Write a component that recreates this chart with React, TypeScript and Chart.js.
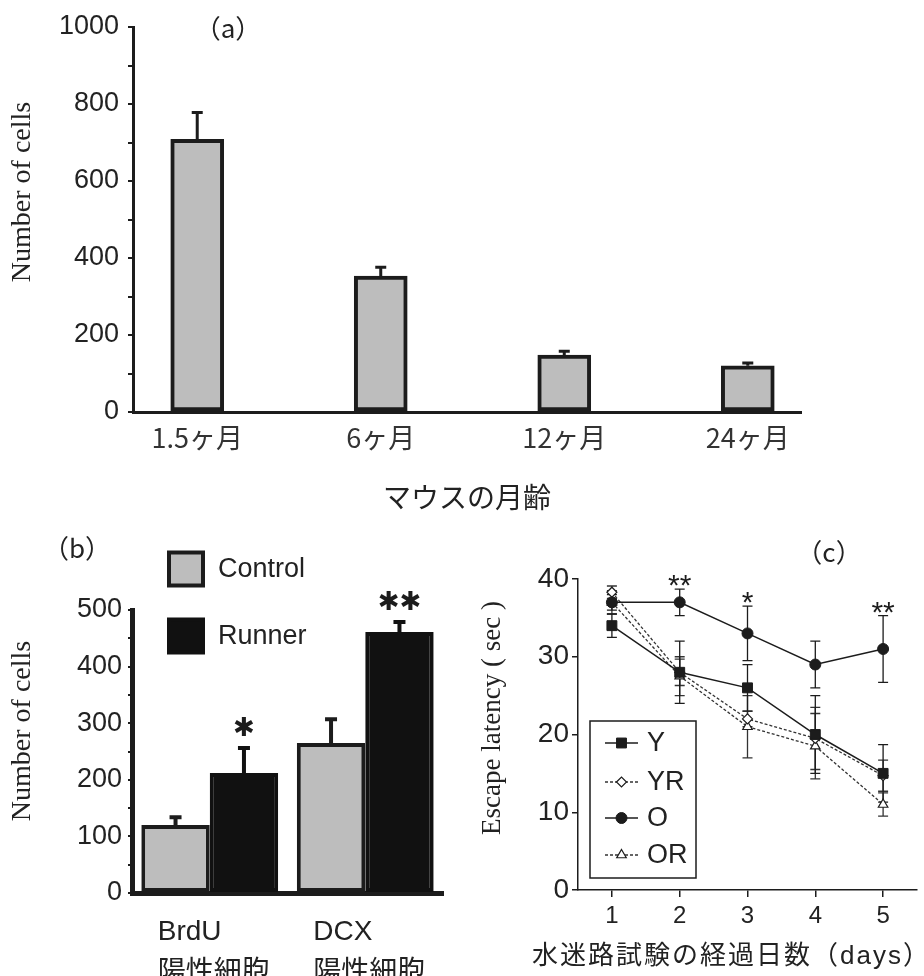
import React, { useEffect, useRef } from "react";
import { Chart, registerables } from "chart.js";
import { drawPoint } from "chart.js/helpers";

Chart.register(...registerables);

// ---------- Panel (a) ----------
const ageLabels = ["1.5ヶ月", "6ヶ月", "12ヶ月", "24ヶ月"];
const ageCells = [708, 353, 148, 120];
const ageErr = [70, 23, 10, 7];

// ---------- Panel (b) ----------
const markerLabels = [["BrdU", "陽性細胞"], ["DCX", "陽性細胞"]];
const controlCells = [120, 265];
const controlErr = [14, 42];
const runnerCells = [212, 461];
const runnerErr = [44, 18];
const runnerStars = ["✱", "✱✱"];

// ---------- Panel (c) ----------
const days = [1, 2, 3, 4, 5];
const latY = [34, 28, 26, 20, 15];
const errY = [1.5, 4, 3, 5, 3.7];
const latYR = [38.3, 28, 22, 19.5, 14.7];
const errYR = [0.8, 1.7, 1, 4, 2];
const latO = [37, 37, 33, 29, 31];
const errO = [1, 1.7, 3.5, 3, 4.3];
const latOR = [37, 27.5, 21, 18.5, 11];
const errOR = [1.5, 2.5, 4, 4.2, 1.5];
const dayStars = ["", "**", "*", "", "**"];

const INK = "#1c1c1c";
const GRAY = "#bdbdbd";
const SANS = '"Liberation Sans", Arial, "Noto Sans CJK JP", sans-serif';
const JP = '"Noto Sans CJK JP", sans-serif';
const SERIF = '"Liberation Serif", "Times New Roman", serif';

const fix = (size: number) => (scale: any) => {
  if (scale.isHorizontal()) scale.height = size;
  else scale.width = size;
  scale.paddingLeft = 0;
  scale.paddingRight = 0;
  scale.paddingTop = 0;
  scale.paddingBottom = 0;
};

const errorBarPlugin = {
  id: "errorBars",
  beforeDatasetsDraw(chart: any, _args: any, opts: any) {
    const { ctx } = chart;
    const yScale = chart.scales.y;
    (opts.sets || []).forEach((set: any) => {
      const meta = chart.getDatasetMeta(set.dataset);
      ctx.save();
      ctx.strokeStyle = set.color;
      ctx.lineWidth = set.width;
      meta.data.forEach((el: any, i: number) => {
        const v = set.values[i];
        const e = set.errors[i];
        const x = el.x;
        const yTop = yScale.getPixelForValue(v + e);
        const yBot = yScale.getPixelForValue(set.both ? v - e : v);
        const h = set.cap / 2;
        ctx.beginPath();
        ctx.moveTo(x, yBot);
        ctx.lineTo(x, yTop);
        ctx.moveTo(x - h, yTop);
        ctx.lineTo(x + h, yTop);
        if (set.both) {
          ctx.moveTo(x - h, yBot);
          ctx.lineTo(x + h, yBot);
        }
        ctx.stroke();
      });
      ctx.restore();
    });
  },
};

const starPlugin = {
  id: "stars",
  afterDatasetsDraw(chart: any, _args: any, opts: any) {
    const { ctx } = chart;
    const yScale = chart.scales.y;
    const meta = chart.getDatasetMeta(opts.dataset);
    ctx.save();
    ctx.fillStyle = opts.color || INK;
    ctx.font = opts.font;
    ctx.textAlign = "center";
    ctx.textBaseline = opts.baseline;
    meta.data.forEach((el: any, i: number) => {
      const t = opts.texts[i];
      if (!t) return;
      const y = yScale.getPixelForValue(opts.values[i] + opts.errors[i]) + opts.dy;
      ctx.fillText(t, el.x, y);
    });
    ctx.restore();
  },
};

const freeTextPlugin = {
  id: "freeText",
  afterDraw(chart: any, _args: any, opts: any) {
    const { ctx } = chart;
    (opts.items || []).forEach((it: any) => {
      ctx.save();
      ctx.translate(it.x, it.y);
      if (it.rotation) ctx.rotate(it.rotation);
      ctx.font = it.font;
      if (it.letterSpacing) (ctx as any).letterSpacing = it.letterSpacing;
      ctx.fillStyle = it.color || "#222";
      ctx.textAlign = it.align || "center";
      ctx.textBaseline = "middle";
      ctx.fillText(it.text, 0, 0);
      ctx.restore();
    });
  },
};

const boxLegendPlugin = {
  id: "boxLegend",
  afterDraw(chart: any, _args: any, opts: any) {
    const { ctx } = chart;
    chart.data.datasets.forEach((ds: any, i: number) => {
      const y = opts.ys[i];
      ctx.save();
      ctx.fillStyle = ds.borderColor;
      ctx.fillRect(opts.x, y - opts.size / 2, opts.size + 1, opts.size);
      ctx.fillStyle = ds.backgroundColor;
      const b = 4;
      ctx.fillRect(opts.x + b, y - opts.size / 2 + b, opts.size + 1 - 2 * b, opts.size - 2 * b);
      ctx.fillStyle = "#222";
      ctx.font = opts.font;
      ctx.textAlign = "left";
      ctx.textBaseline = "middle";
      ctx.fillText(ds.label, opts.textX, y + 1);
      ctx.restore();
    });
  },
};

const lineLegendPlugin = {
  id: "lineLegend",
  afterDraw(chart: any, _args: any, opts: any) {
    const { ctx } = chart;
    ctx.save();
    ctx.strokeStyle = INK;
    ctx.lineWidth = 1.5;
    ctx.fillStyle = "#fff";
    ctx.fillRect(opts.box[0], opts.box[1], opts.box[2], opts.box[3]);
    ctx.strokeRect(opts.box[0], opts.box[1], opts.box[2], opts.box[3]);
    chart.data.datasets.forEach((ds: any, i: number) => {
      const y = opts.ys[i];
      ctx.save();
      ctx.strokeStyle = ds.borderColor;
      ctx.lineWidth = ds.borderWidth;
      ctx.setLineDash(ds.borderDash || []);
      ctx.beginPath();
      ctx.moveTo(opts.x1, y);
      ctx.lineTo(opts.x2, y);
      ctx.stroke();
      ctx.setLineDash([]);
      ctx.fillStyle = ds.pointBackgroundColor;
      ctx.strokeStyle = ds.pointBorderColor;
      ctx.lineWidth = ds.pointBorderWidth;
      drawPoint(
        ctx,
        { pointStyle: ds.pointStyle, radius: ds.pointRadius, rotation: 0, borderWidth: ds.pointBorderWidth } as any,
        (opts.x1 + opts.x2) / 2,
        y
      );
      ctx.fillStyle = "#222";
      ctx.font = opts.font;
      ctx.textAlign = "left";
      ctx.textBaseline = "middle";
      ctx.fillText(ds.label, opts.textX, y + 1);
      ctx.restore();
    });
    ctx.restore();
  },
};

const baseOptions = {
  animation: false,
  responsive: false,
  devicePixelRatio: 1,
};

function configA(): any {
  return {
    type: "bar",
    data: {
      datasets: [
        {
          label: "Number of cells",
          data: ageCells.map((v, i) => ({ x: i, y: v })),
          backgroundColor: GRAY,
          borderColor: INK,
          borderWidth: 4,
          borderSkipped: false,
          barThickness: 53,
        },
      ],
    },
    options: {
      ...baseOptions,
      layout: { autoPadding: false, padding: { left: 0, top: 27, right: 123, bottom: 0 } },
      scales: {
        x: {
          type: "linear",
          min: -0.35,
          max: 3.29,
          offset: false,
          afterBuildTicks: (s: any) => {
            s.ticks = ageLabels.map((_, i) => ({ value: i }));
          },
          ticks: {
            callback: (v: any) => ageLabels[v] ?? "",
            font: { family: JP, size: 27 },
            color: "#333",
            padding: 10,
            autoSkip: false,
            maxRotation: 0,
          },
          grid: { display: false, drawTicks: false, offset: false },
          border: { display: true, width: 3, color: INK },
          title: {
            display: true,
            text: "マウスの月齢",
            font: { family: JP, size: 28 },
            color: "#222",
            padding: { top: 0, bottom: 6 },
          },
          afterFit: fix(108),
        },
        y: {
          min: 0,
          max: 1000,
          ticks: {
            stepSize: 100,
            autoSkip: false,
            callback: (v: any) => (Math.round(v) % 200 === 0 ? String(Math.round(v)) : ""),
            font: { family: SANS, size: 27 },
            color: "#222",
            padding: 9,
          },
          grid: { drawOnChartArea: false, drawTicks: true, tickLength: 5, lineWidth: 2, color: INK },
          border: { width: 3, color: INK },
          afterFit: fix(133),
        },
      },
      plugins: {
        legend: { display: false },
        tooltip: { enabled: false },
        errorBars: {
          sets: [{ dataset: 0, values: ageCells, errors: ageErr, both: false, color: INK, width: 3, cap: 11 }],
        },
        freeText: {
          items: [
            { text: "（a）", x: 228, y: 28, font: `26px ${JP}` },
            { text: "Number of cells", x: 23, y: 192, rotation: -Math.PI / 2, font: `28px ${SERIF}` },
          ],
        },
      },
    },
    plugins: [errorBarPlugin, freeTextPlugin],
  };
}

function configB(): any {
  return {
    type: "bar",
    data: {
      labels: markerLabels,
      datasets: [
        {
          label: "Control",
          data: controlCells,
          backgroundColor: GRAY,
          borderColor: INK,
          borderWidth: 4,
          borderSkipped: false,
          categoryPercentage: 0.88,
          barPercentage: 1,
        },
        {
          label: "Runner",
          data: runnerCells,
          backgroundColor: "#111",
          borderColor: "#111",
          borderWidth: 4,
          borderSkipped: false,
          categoryPercentage: 0.88,
          barPercentage: 1,
        },
      ],
    },
    options: {
      ...baseOptions,
      layout: { autoPadding: false, padding: { left: 0, top: 90, right: 17, bottom: 0 } },
      scales: {
        x: {
          ticks: {
            font: { family: SANS, size: 28, lineHeight: 1.45 },
            color: "#222",
            align: "start",
            labelOffset: -52,
            padding: 19,
            maxRotation: 0,
            autoSkip: false,
          },
          grid: { display: false, drawTicks: false },
          border: { width: 5, color: INK },
          afterFit: fix(83),
        },
        y: {
          min: 0,
          max: 500,
          ticks: {
            stepSize: 50,
            autoSkip: false,
            callback: (v: any) => (Math.round(v) % 100 === 0 ? String(Math.round(v)) : ""),
            font: { family: SANS, size: 27 },
            color: "#222",
            padding: 6,
          },
          grid: { drawOnChartArea: false, drawTicks: true, tickLength: 4, lineWidth: 2, color: INK },
          border: { width: 5, color: INK },
          afterFit: fix(132),
        },
      },
      plugins: {
        legend: { display: false },
        tooltip: { enabled: false },
        errorBars: {
          sets: [
            { dataset: 0, values: controlCells, errors: controlErr, both: false, color: INK, width: 4, cap: 12 },
            { dataset: 1, values: runnerCells, errors: runnerErr, both: false, color: "#111", width: 4, cap: 12 },
          ],
        },
        stars: {
          dataset: 1,
          values: runnerCells,
          errors: runnerErr,
          texts: runnerStars,
          font: `bold 26px "DejaVu Sans", sans-serif`,
          baseline: "middle",
          dy: -19,
        },
        boxLegend: { x: 167, ys: [49, 116], size: 37, textX: 218, font: `27px ${SANS}` },
        freeText: {
          items: [
            { text: "（b）", x: 77, y: 28, font: `26px ${JP}` },
            { text: "Number of cells", x: 23, y: 211, rotation: -Math.PI / 2, font: `28px ${SERIF}` },
          ],
        },
      },
    },
    plugins: [errorBarPlugin, starPlugin, boxLegendPlugin, freeTextPlugin],
  };
}

function configC(): any {
  const pts = (arr: number[]) => days.map((d, i) => ({ x: d, y: arr[i] }));
  return {
    type: "line",
    data: {
      datasets: [
        {
          label: "Y",
          data: pts(latY),
          borderColor: INK,
          borderWidth: 1.5,
          pointStyle: "rect",
          pointRadius: 7,
          pointBackgroundColor: INK,
          pointBorderColor: INK,
          pointBorderWidth: 1,
          order: 1,
        },
        {
          label: "YR",
          data: pts(latYR),
          borderColor: "#333",
          borderWidth: 1.3,
          borderDash: [3, 2],
          pointStyle: "rectRot",
          pointRadius: 5,
          pointBackgroundColor: "#fff",
          pointBorderColor: INK,
          pointBorderWidth: 1.2,
          order: 2,
        },
        {
          label: "O",
          data: pts(latO),
          borderColor: INK,
          borderWidth: 1.5,
          pointStyle: "circle",
          pointRadius: 5.5,
          pointBackgroundColor: INK,
          pointBorderColor: INK,
          pointBorderWidth: 1,
          order: 0,
        },
        {
          label: "OR",
          data: pts(latOR),
          borderColor: "#333",
          borderWidth: 1.3,
          borderDash: [3, 2],
          pointStyle: "triangle",
          pointRadius: 5.5,
          pointBackgroundColor: "#fff",
          pointBorderColor: INK,
          pointBorderWidth: 1.2,
          order: 3,
        },
      ],
    },
    options: {
      ...baseOptions,
      layout: { autoPadding: false, padding: { left: 0, top: 59, right: 7, bottom: 0 } },
      scales: {
        x: {
          type: "linear",
          min: 0.5,
          max: 5.5,
          afterBuildTicks: (s: any) => {
            s.ticks = days.map((v) => ({ value: v }));
          },
          ticks: { font: { family: SANS, size: 24 }, color: "#222", padding: 5, autoSkip: false, maxRotation: 0 },
          grid: { drawOnChartArea: false, drawTicks: true, tickLength: 7, lineWidth: 1.5, color: INK },
          border: { width: 1.5, color: INK },
          afterFit: fix(86),
        },
        y: {
          min: 0,
          max: 40,
          ticks: { stepSize: 10, font: { family: SANS, size: 28 }, color: "#222", padding: 3 },
          grid: { drawOnChartArea: false, drawTicks: true, tickLength: 6, lineWidth: 1.5, color: INK },
          border: { width: 1.5, color: INK },
          afterFit: fix(118),
        },
      },
      plugins: {
        legend: { display: false },
        tooltip: { enabled: false },
        errorBars: {
          sets: [
            { dataset: 1, values: latYR, errors: errYR, both: true, color: "#333", width: 1.3, cap: 10 },
            { dataset: 3, values: latOR, errors: errOR, both: true, color: "#333", width: 1.3, cap: 10 },
            { dataset: 0, values: latY, errors: errY, both: true, color: INK, width: 1.3, cap: 10 },
            { dataset: 2, values: latO, errors: errO, both: true, color: INK, width: 1.3, cap: 10 },
          ],
        },
        stars: {
          dataset: 2,
          values: latO,
          errors: errO,
          texts: dayStars,
          font: `30px ${SANS}`,
          baseline: "alphabetic",
          dy: 6,
        },
        lineLegend: {
          box: [130, 201, 106, 157],
          ys: [223, 262, 298, 335],
          x1: 145,
          x2: 178,
          textX: 187,
          font: `27px ${SANS}`,
        },
        freeText: {
          items: [
            { text: "（c）", x: 369, y: 32, font: `26px ${JP}` },
            { text: "Escape latency ( sec )", x: 33, y: 198, rotation: -Math.PI / 2, font: `27px ${SERIF}` },
            { text: "水迷路試験の経過日数（days）", x: 72, y: 437, align: "left", letterSpacing: "2px", font: `26px ${SANS}` },
          ],
        },
      },
    },
    plugins: [errorBarPlugin, starPlugin, lineLegendPlugin, freeTextPlugin],
  };
}

function ChartCanvas(props: { make: () => any; left: number; top: number; width: number; height: number }) {
  const ref = useRef<HTMLCanvasElement>(null);
  useEffect(() => {
    const chart = new Chart(ref.current as HTMLCanvasElement, props.make());
    return () => chart.destroy();
  }, []);
  return (
    <canvas
      ref={ref}
      width={props.width}
      height={props.height}
      style={{ position: "absolute", left: props.left, top: props.top, width: props.width, height: props.height }}
    />
  );
}

export default function App() {
  return (
    <div style={{ position: "absolute", left: 0, top: 0, width: 924, height: 976, background: "#fff", overflow: "hidden" }}>
      <ChartCanvas make={configA} left={0} top={0} width={924} height={520} />
      <ChartCanvas make={configB} left={0} top={520} width={460} height={456} />
      <ChartCanvas make={configC} left={460} top={520} width={464} height={456} />
    </div>
  );
}
